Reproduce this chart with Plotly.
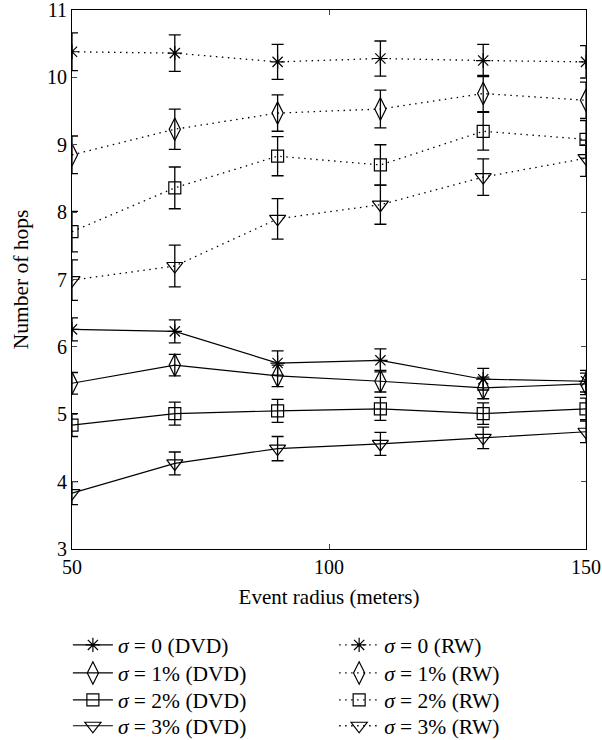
import plotly.graph_objects as go

radius = [50, 70, 90, 110, 130, 150]

dvd_s0 = [6.26, 6.23, 5.76, 5.80, 5.52, 5.49]
dvd_s1 = [5.46, 5.73, 5.57, 5.49, 5.39, 5.45]
dvd_s2 = [4.84, 5.01, 5.05, 5.08, 5.01, 5.08]
dvd_s3 = [3.83, 4.27, 4.49, 4.56, 4.65, 4.74]
dvd_err0 = [0.17, 0.17, 0.18, 0.17, 0.16, 0.16]
dvd_err1 = [0.16, 0.16, 0.16, 0.16, 0.16, 0.16]
dvd_err2 = [0.17, 0.17, 0.17, 0.17, 0.16, 0.16]
dvd_err3 = [0.17, 0.17, 0.18, 0.17, 0.16, 0.16]

rw_s0 = [10.38, 10.36, 10.23, 10.28, 10.25, 10.23]
rw_s1 = [8.85, 9.23, 9.47, 9.53, 9.76, 9.66]
rw_s2 = [7.71, 8.36, 8.83, 8.70, 9.20, 9.08]
rw_s3 = [6.99, 7.20, 7.90, 8.11, 8.52, 8.80]
rw_err0 = [0.28, 0.27, 0.26, 0.26, 0.24, 0.24]
rw_err1 = [0.28, 0.30, 0.27, 0.28, 0.27, 0.27]
rw_err2 = [0.30, 0.31, 0.29, 0.30, 0.28, 0.28]
rw_err3 = [0.30, 0.31, 0.30, 0.29, 0.27, 0.27]

dvd_labels = ["<i>σ</i> = 0 (DVD)", "<i>σ</i> = 1% (DVD)", "<i>σ</i> = 2% (DVD)", "<i>σ</i> = 3% (DVD)"]
rw_labels = ["<i>σ</i> = 0 (RW)", "<i>σ</i> = 1% (RW)", "<i>σ</i> = 2% (RW)", "<i>σ</i> = 3% (RW)"]

symbols = ["asterisk-open", "diamond-tall-open", "square-open", "triangle-down-open"]
sizes = [12, 16, 12, 14]

# legend row positions (paper y, row centres) and column x positions
legend_rows_y = [-0.178, -0.230, -0.280, -0.328]
legend_cols_x = [-0.008, 0.510]

fig = go.Figure()

dvd = [(dvd_s0, dvd_err0), (dvd_s1, dvd_err1), (dvd_s2, dvd_err2), (dvd_s3, dvd_err3)]
rw = [(rw_s0, rw_err0), (rw_s1, rw_err1), (rw_s2, rw_err2), (rw_s3, rw_err3)]

font = "Liberation Serif, DejaVu Serif, serif"
legends = {}

def legend_name(k):
    return "legend" if k == 1 else "legend%d" % k

for i, (vals, err) in enumerate(dvd):
    lg = legend_name(1 + i)
    fig.add_trace(go.Scatter(
        x=radius, y=vals, name=dvd_labels[i], mode="lines+markers",
        line=dict(color="black", width=1.2, dash="solid"),
        marker=dict(symbol=symbols[i], size=sizes[i], color="black",
                    line=dict(color="black", width=1.2)),
        error_y=dict(type="data", array=err, visible=True, color="black",
                     thickness=1.3, width=6),
        legend=lg,
    ))
    legends[lg] = (legend_cols_x[0], legend_rows_y[i])

for i, (vals, err) in enumerate(rw):
    lg = legend_name(5 + i)
    fig.add_trace(go.Scatter(
        x=radius, y=vals, name=rw_labels[i], mode="lines+markers",
        line=dict(color="black", width=1.3, dash="1.5px,4.5px"),
        marker=dict(symbol=symbols[i], size=sizes[i], color="black",
                    line=dict(color="black", width=1.2)),
        error_y=dict(type="data", array=err, visible=True, color="black",
                     thickness=1.3, width=6),
        legend=lg,
    ))
    legends[lg] = (legend_cols_x[1], legend_rows_y[i])

fig.update_layout(
    width=602, height=740,
    margin=dict(l=72, r=16, t=10, b=191, autoexpand=False),
    paper_bgcolor="white", plot_bgcolor="white",
    font=dict(family=font, size=20, color="black"),
    showlegend=True,
    xaxis=dict(
        range=[50, 150], tickvals=[50, 100, 150], ticks="inside", ticklen=5,
        showline=True, linecolor="black", linewidth=1, mirror="ticks",
        showgrid=False, zeroline=False, ticklabeloverflow="allow", automargin=False,
        title=dict(text="Event radius (meters)", font=dict(size=21), standoff=12),
        tickfont=dict(size=20),
    ),
    yaxis=dict(
        range=[3, 11], dtick=1, ticks="inside", ticklen=5,
        showline=True, linecolor="black", linewidth=1, mirror="ticks",
        showgrid=False, zeroline=False, ticklabeloverflow="allow", automargin=False,
        title=dict(text="Number of hops", font=dict(size=21.5), standoff=12),
        tickfont=dict(size=20),
    ),
)

for lg, (lx, ly) in legends.items():
    fig.update_layout({lg: dict(
        x=lx, y=ly, xanchor="left", yanchor="middle",
        font=dict(family=font, size=21.5, color="black"),
        bgcolor="rgba(0,0,0,0)", itemwidth=40,
    )})

fig.write_html("out.html", config={"displayModeBar": False},
               post_script="document.body.style.margin='0';document.body.style.overflow='hidden';")
